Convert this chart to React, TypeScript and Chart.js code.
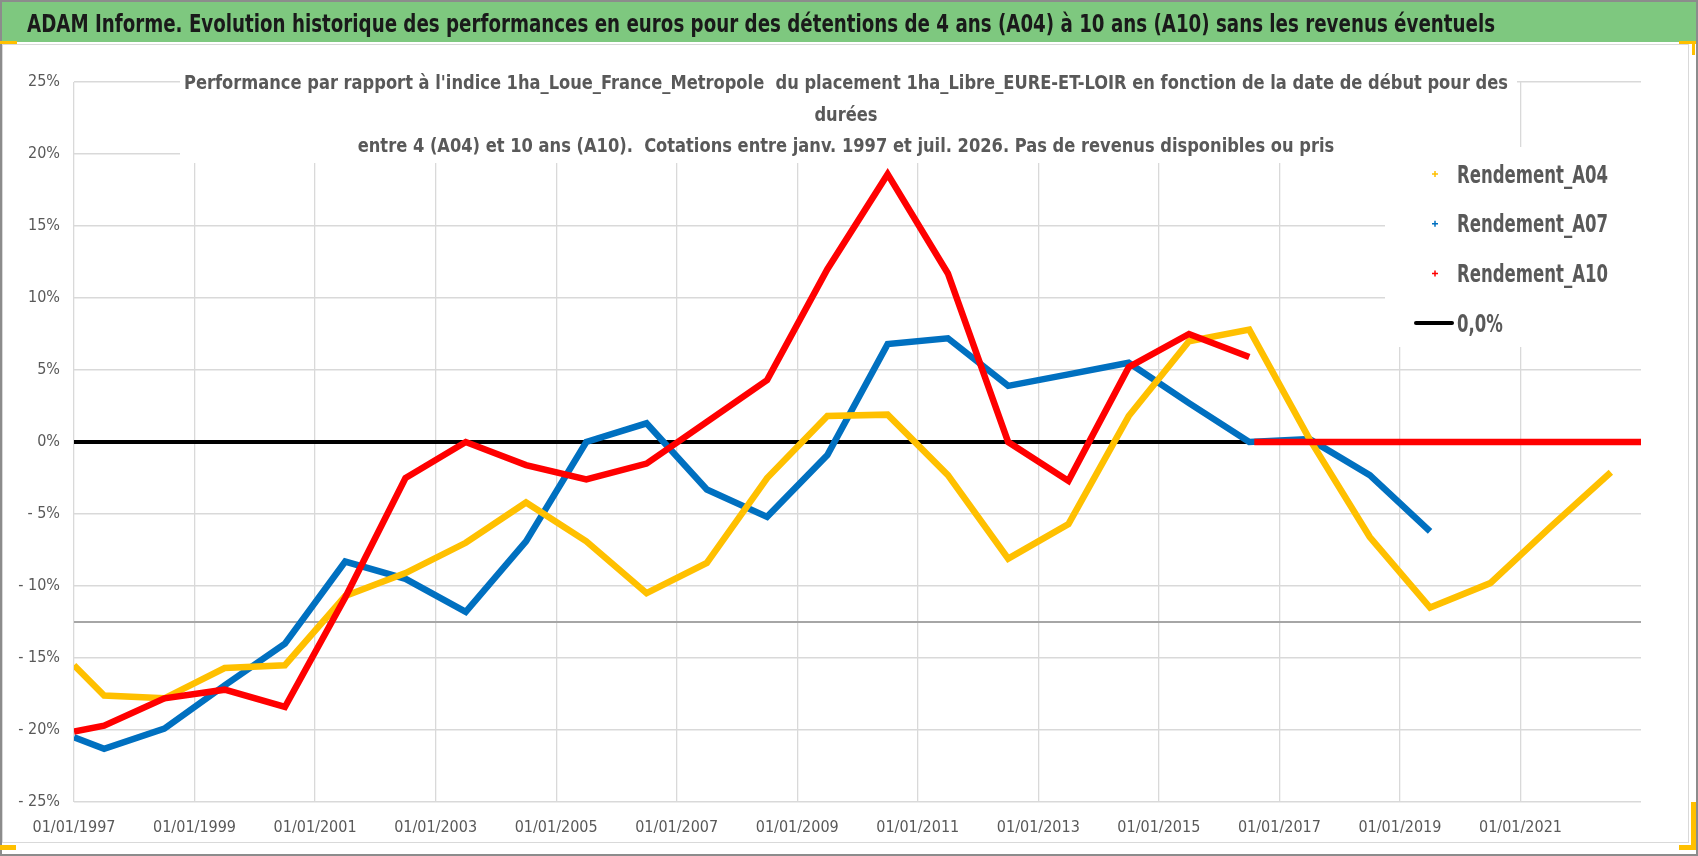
import { useEffect, useRef } from "react"
import { Chart, registerables } from "chart.js"

Chart.register(...registerables)

const HEADER =
  "ADAM Informe. Evolution historique des performances en euros pour des détentions de 4 ans (A04) à 10 ans (A10) sans les revenus éventuels"

const TITLE_LINES = [
  "Performance par rapport à l'indice 1ha_Loue_France_Metropole  du placement 1ha_Libre_EURE-ET-LOIR en fonction de la date de début pour des",
  "durées",
  "entre 4 (A04) et 10 ans (A10).  Cotations entre janv. 1997 et juil. 2026. Pas de revenus disponibles ou pris",
]

const SERIES_LABELS = ["Rendement_A04", "Rendement_A07", "Rendement_A10", "0,0%"]
const SERIES_COLORS = ["#FFC000", "#0070C0", "#FF0000", "#000000"]

const A04_DATES = [
  "1997-01", "1997-07", "1998-07", "1999-07", "2000-07", "2001-07", "2002-07", "2003-07", "2004-07",
  "2005-07", "2006-07", "2007-07", "2008-07", "2009-07", "2010-07", "2011-07", "2012-07", "2013-07",
  "2014-07", "2015-07", "2016-07", "2017-07", "2018-07", "2019-07", "2020-07", "2021-07", "2022-07",
]
const A04_VALUES = [
  -15.5, -17.6, -17.8, -15.7, -15.5, -10.7, -9.1, -7.0, -4.2,
  -6.9, -10.5, -8.4, -2.5, 1.8, 1.9, -2.3, -8.1, -5.7,
  1.8, 7.0, 7.8, 0.2, -6.6, -11.5, -9.8, -5.9, -2.1,
]

const A07_DATES = [
  "1997-01", "1997-07", "1998-07", "1999-07", "2000-07", "2001-07", "2002-07", "2003-07",
  "2004-07", "2005-07", "2006-07", "2007-07", "2008-07", "2009-07", "2010-07", "2011-07",
  "2012-07", "2013-07", "2014-07", "2015-07", "2016-07", "2017-07", "2018-07", "2019-07",
]
const A07_VALUES = [
  -20.5, -21.3, -19.9, -16.9, -14.0, -8.3, -9.5, -11.8,
  -6.9, 0.0, 1.3, -3.3, -5.2, -0.9, 6.8, 7.2,
  3.9, 4.7, 5.5, 2.7, 0.0, 0.2, -2.3, -6.2,
]

// null = break in the series (no quotes after Aug 2016, then plotted at 0)
const A10_DATES = [
  "1997-01", "1997-07", "1998-07", "1999-07", "2000-07", "2001-07", "2002-07", "2003-07",
  "2004-07", "2005-07", "2006-07", "2007-07", "2008-07", "2009-07", "2010-07", "2011-07",
  "2012-07", "2013-07", "2014-07", "2015-07", "2016-07", "2016-08", "2016-08", "2023-01",
]
const A10_VALUES = [
  -20.1, -19.7, -17.8, -17.2, -18.4, -10.8, -2.5, 0.0,
  -1.6, -2.6, -1.5, 1.4, 4.3, 12.0, 18.6, 11.7,
  0.0, -2.7, 5.2, 7.5, 5.9, null, 0, 0,
]

const ZERO_DATES = ["1997-01", "2023-01"]
const ZERO_VALUES = [0, 0]

const X_TICK_YEARS = [1997, 1999, 2001, 2003, 2005, 2007, 2009, 2011, 2013, 2015, 2017, 2019, 2021]
const X_TICK_LABELS = [
  "01/01/1997", "01/01/1999", "01/01/2001", "01/01/2003", "01/01/2005", "01/01/2007", "01/01/2009",
  "01/01/2011", "01/01/2013", "01/01/2015", "01/01/2017", "01/01/2019", "01/01/2021",
]
const Y_TICK_VALUES = [-25, -20, -15, -10, -5, 0, 5, 10, 15, 20, 25]
const Y_TICK_LABELS = ["- 25%", "- 20%", "- 15%", "- 10%", "- 5%", "0%", "5%", "10%", "15%", "20%", "25%"]

const REF_LINE_VALUE = -12.5

const FONT = '"Liberation Sans Narrow", "DejaVu Sans Condensed", "Liberation Sans", Arial, sans-serif'
const TEXT_GREY = "#595959"
const GRID_GREY = "#D9D9D9"

const toYear = (d: string) => {
  const [y, m] = d.split("-").map(Number)
  return y + (m - 1) / 12
}

const toPoints = (dates: string[], values: (number | null)[]) =>
  dates.map((d, i) => ({ x: toYear(d), y: values[i] }))

// draw text squeezed/stretched horizontally by sx
function drawScaled(ctx: CanvasRenderingContext2D, text: string, x: number, y: number, sx: number) {
  ctx.save()
  ctx.translate(x, y)
  ctx.scale(sx, 1)
  ctx.fillText(text, 0, 0)
  ctx.restore()
}

const framePlugin = {
  id: "frame",
  beforeDraw(chart: Chart) {
    const { ctx, width, height } = chart
    ctx.save()
    ctx.fillStyle = "#ffffff"
    ctx.fillRect(0, 0, width, height)

    // green header band
    ctx.fillStyle = "#7EC87F"
    ctx.fillRect(2, 2, width - 4, 40)
    ctx.font = `bold 25px ${FONT}`
    ctx.fillStyle = "#1a1a1a"
    ctx.textAlign = "left"
    ctx.textBaseline = "alphabetic"
    const hw = ctx.measureText(HEADER).width
    drawScaled(ctx, HEADER, 27, 32, 1468 / hw)

    // chart border + outer border
    ctx.strokeStyle = GRID_GREY
    ctx.lineWidth = 1
    ctx.strokeRect(2.5, 44.5, 1686, 798)
    ctx.strokeStyle = "#8C8C8C"
    ctx.lineWidth = 2
    ctx.strokeRect(1, 1, width - 2, height - 2)

    // selection handles
    ctx.fillStyle = "#FFC000"
    ctx.fillRect(0, 41, 17, 3)
    ctx.fillRect(1679, 41, 17, 3)
    ctx.fillRect(1692, 41, 3, 14)
    ctx.fillRect(1691, 802, 5, 48)
    ctx.fillRect(1679, 845, 17, 5)
    ctx.fillRect(0, 845, 16, 5)
    ctx.restore()
  },
  beforeDatasetsDraw(chart: Chart) {
    const { ctx, chartArea } = chart
    const yScale = chart.scales.y
    ctx.save()

    // darker horizontal line
    const ry = yScale.getPixelForValue(REF_LINE_VALUE)
    ctx.strokeStyle = "#A6A6A6"
    ctx.lineWidth = 2
    ctx.beginPath()
    ctx.moveTo(chartArea.left, ry)
    ctx.lineTo(chartArea.right, ry)
    ctx.stroke()

    // title box
    ctx.fillStyle = "#ffffff"
    ctx.fillRect(180, 66, 1337, 97)
    ctx.font = `bold 20px ${FONT}`
    ctx.fillStyle = TEXT_GREY
    ctx.textAlign = "center"
    ctx.textBaseline = "alphabetic"
    const tsx = 1324 / ctx.measureText(TITLE_LINES[0]).width
    TITLE_LINES.forEach((line, i) => drawScaled(ctx, line, 846, 89 + i * 31.5, tsx))

    // legend box
    ctx.fillStyle = "#ffffff"
    ctx.fillRect(1385, 147, 260, 200)
    ctx.font = `bold 25px ${FONT}`
    ctx.textAlign = "left"
    const lsx = 151 / ctx.measureText(SERIES_LABELS[0]).width
    SERIES_LABELS.forEach((label, i) => {
      const cy = 174 + i * 49.7
      ctx.strokeStyle = SERIES_COLORS[i]
      if (i < 3) {
        ctx.lineWidth = 1.5
        ctx.beginPath()
        ctx.moveTo(1432, cy)
        ctx.lineTo(1438, cy)
        ctx.moveTo(1435, cy - 3)
        ctx.lineTo(1435, cy + 3)
        ctx.stroke()
      } else {
        ctx.lineWidth = 4
        ctx.lineCap = "round"
        ctx.beginPath()
        ctx.moveTo(1416, cy)
        ctx.lineTo(1452, cy)
        ctx.stroke()
      }
      ctx.fillStyle = TEXT_GREY
      drawScaled(ctx, label, 1457, cy + 8.5, lsx)
    })
    ctx.restore()
  },
}

export default function App() {
  const chartRef = useRef<HTMLCanvasElement>(null)
  const chartInstance = useRef<Chart | null>(null)

  useEffect(() => {
    document.body.style.margin = "0"
    if (!chartRef.current) return
    const ctx = chartRef.current.getContext("2d")
    if (!ctx) return

    if (chartInstance.current) {
      chartInstance.current.destroy()
    }

    const lineStyle = { pointRadius: 0, tension: 0, spanGaps: false, borderCapStyle: "butt" as const }

    chartInstance.current = new Chart(ctx, {
      type: "line",
      data: {
        datasets: [
          {
            label: SERIES_LABELS[0],
            data: toPoints(A04_DATES, A04_VALUES),
            borderColor: SERIES_COLORS[0],
            borderWidth: 6.5,
            order: 1,
            ...lineStyle,
          },
          {
            label: SERIES_LABELS[1],
            data: toPoints(A07_DATES, A07_VALUES),
            borderColor: SERIES_COLORS[1],
            borderWidth: 6.5,
            order: 2,
            ...lineStyle,
          },
          {
            label: SERIES_LABELS[2],
            data: toPoints(A10_DATES, A10_VALUES),
            borderColor: SERIES_COLORS[2],
            borderWidth: 6.5,
            order: 0,
            ...lineStyle,
          },
          {
            label: SERIES_LABELS[3],
            data: toPoints(ZERO_DATES, ZERO_VALUES),
            borderColor: SERIES_COLORS[3],
            borderWidth: 4,
            order: 3,
            ...lineStyle,
          },
        ],
      },
      options: {
        responsive: false,
        animation: false,
        events: [],
        layout: { padding: { left: 0, right: 57, top: 82, bottom: 0 } },
        plugins: {
          legend: { display: false },
          title: { display: false },
          tooltip: { enabled: false },
        },
        scales: {
          x: {
            type: "linear",
            min: 1997,
            max: 2023,
            afterBuildTicks: (scale) => {
              scale.ticks = X_TICK_YEARS.map((value) => ({ value }))
            },
            afterFit: (scale) => {
              scale.height = 54
            },
            ticks: {
              autoSkip: false,
              maxRotation: 0,
              minRotation: 0,
              padding: 16,
              color: TEXT_GREY,
              font: { family: FONT, size: 16 },
              callback: (_v, i) => X_TICK_LABELS[i],
            },
            grid: { color: GRID_GREY, lineWidth: 1.3, drawTicks: false },
            border: { display: false },
          },
          y: {
            type: "linear",
            min: -25,
            max: 25,
            afterBuildTicks: (scale) => {
              scale.ticks = Y_TICK_VALUES.map((value) => ({ value }))
            },
            afterFit: (scale) => {
              scale.width = 74
            },
            ticks: {
              padding: 14,
              color: TEXT_GREY,
              font: { family: FONT, size: 16 },
              callback: (_v, i) => Y_TICK_LABELS[i],
            },
            grid: { color: GRID_GREY, lineWidth: 1.6, drawTicks: false },
            border: { display: false },
          },
        },
      },
      plugins: [framePlugin],
    })

    return () => {
      if (chartInstance.current) {
        chartInstance.current.destroy()
        chartInstance.current = null
      }
    }
  }, [])

  return (
    <div style={{ width: 1698, height: 856 }}>
      <canvas ref={chartRef} width={1698} height={856} style={{ display: "block" }} />
    </div>
  )
}
